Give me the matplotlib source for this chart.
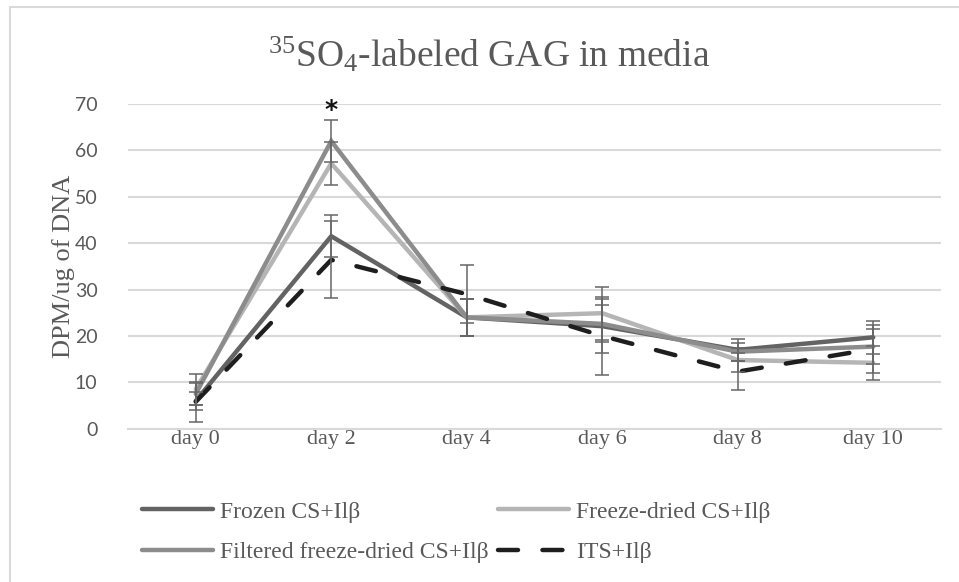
import matplotlib
matplotlib.use("Agg")
import matplotlib.pyplot as plt
from matplotlib.patches import Rectangle

plt.rcParams['mathtext.fontset'] = 'custom'
plt.rcParams['mathtext.rm'] = 'Liberation Serif'
plt.rcParams['mathtext.default'] = 'rm'

categories = ["day 0", "day 2", "day 4", "day 6", "day 8", "day 10"]
series_names = ["Frozen CS+Ilβ", "Freeze-dried CS+Ilβ",
                "Filtered freeze-dried CS+Ilβ", "ITS+Ilβ"]
frozen = [6.0, 41.5, 24.0, 22.1, 17.0, 19.7]
frozen_err = [1.9, 4.5, 4.0, 5.8, 2.3, 3.6]
freeze_dried = [8.5, 57.2, 24.0, 24.9, 14.8, 14.2]
freeze_dried_err = [3.4, 4.7, 4.0, 5.7, 2.5, 3.6]
filtered = [7.5, 62.0, 24.0, 22.6, 16.6, 17.7]
filtered_err = [2.4, 4.5, 4.0, 4.0, 1.9, 3.8]
its = [5.8, 36.4, 29.0, 20.0, 12.3, 17.2]
its_err = [4.3, 8.3, 6.3, 8.4, 4.0, 5.1]
yticks = [0, 10, 20, 30, 40, 50, 60, 70]

W, H = 959, 582
fig = plt.figure(figsize=(W / 100, H / 100), dpi=100)
ax = fig.add_axes([128 / W, 1 - 428.7 / H, (941 - 128) / W, (428.7 - 104) / H])

x = list(range(len(categories)))
colors = ['#636363', '#b5b5b5', '#8c8c8c', '#1e1e1e']
data = [frozen, freeze_dried, filtered, its]
errs = [frozen_err, freeze_dried_err, filtered_err, its_err]
handles = []
for i, (vals, err, c, name) in enumerate(zip(data, errs, colors, series_names)):
    if i == 3:
        ln, = ax.plot(x, vals, color=c, lw=3.2, dashes=(4.5, 5.5),
                      dash_capstyle='round', solid_capstyle='round', zorder=3 + i)
    else:
        ln, = ax.plot(x, vals, color=c, lw=3.2, solid_capstyle='round',
                      solid_joinstyle='miter', zorder=3 + i)
    ax.errorbar(x, vals, yerr=err, fmt='none', ecolor='#666666', elinewidth=1.1,
                capsize=5, capthick=1.1, zorder=8)
    handles.append(ln)

ax.set_xlim(-0.5, 5.5)
ax.set_ylim(0, 70)
ax.set_yticks(yticks)
ax.set_yticklabels([str(t) for t in yticks], fontfamily='Lato', fontsize=14,
                   color='#595959')
ax.set_xticks(x)
ax.set_xticklabels(categories, fontfamily='Liberation Serif', fontsize=16,
                   color='#595959')
ax.tick_params(axis='both', length=0)
ax.tick_params(axis='y', pad=22)
ax.tick_params(axis='x', pad=1)
ax.grid(axis='y', color='#d9d9d9', lw=1.5, zorder=0)
ax.set_axisbelow(True)
for s in ['top', 'right', 'left']:
    ax.spines[s].set_visible(False)
ax.spines['bottom'].set_color('#d9d9d9')
ax.spines['bottom'].set_linewidth(1.5)

ax.set_ylabel("DPM/ug of DNA", fontfamily='Liberation Serif', fontsize=19,
              color='#595959')
ax.yaxis.set_label_coords((75 - 128) / (941 - 128), 0.5)

ax.text(1, 68.8, "*", ha='center', va='center', fontsize=18, color='#111111',
        fontweight='bold', fontfamily='DejaVu Sans')

fig.text(489 / W, 1 - 55 / H, r"$^{35}$SO$_{4}$-labeled GAG in media",
         ha='center', va='center', fontfamily='Liberation Serif', fontsize=27,
         color='#595959')

order = [0, 2, 1, 3]
leg = fig.legend([handles[k] for k in order], [series_names[k] for k in order],
                 ncol=2, loc='upper left',
                 bbox_to_anchor=(142 / W, 1 - 501 / H), frameon=False,
                 prop={'family': 'Liberation Serif', 'size': 17},
                 handlelength=3.0, handletextpad=0.3, columnspacing=0.4,
                 labelspacing=0.8, borderaxespad=0, borderpad=0)
for t in leg.get_texts():
    t.set_color('#595959')

fig.patches.append(Rectangle((10 / W, -0.1), 2, 1.1 - 7 / H, transform=fig.transFigure,
                             fill=False, edgecolor='#d9d9d9', lw=1.5))

fig.savefig("out.png", dpi=100)
